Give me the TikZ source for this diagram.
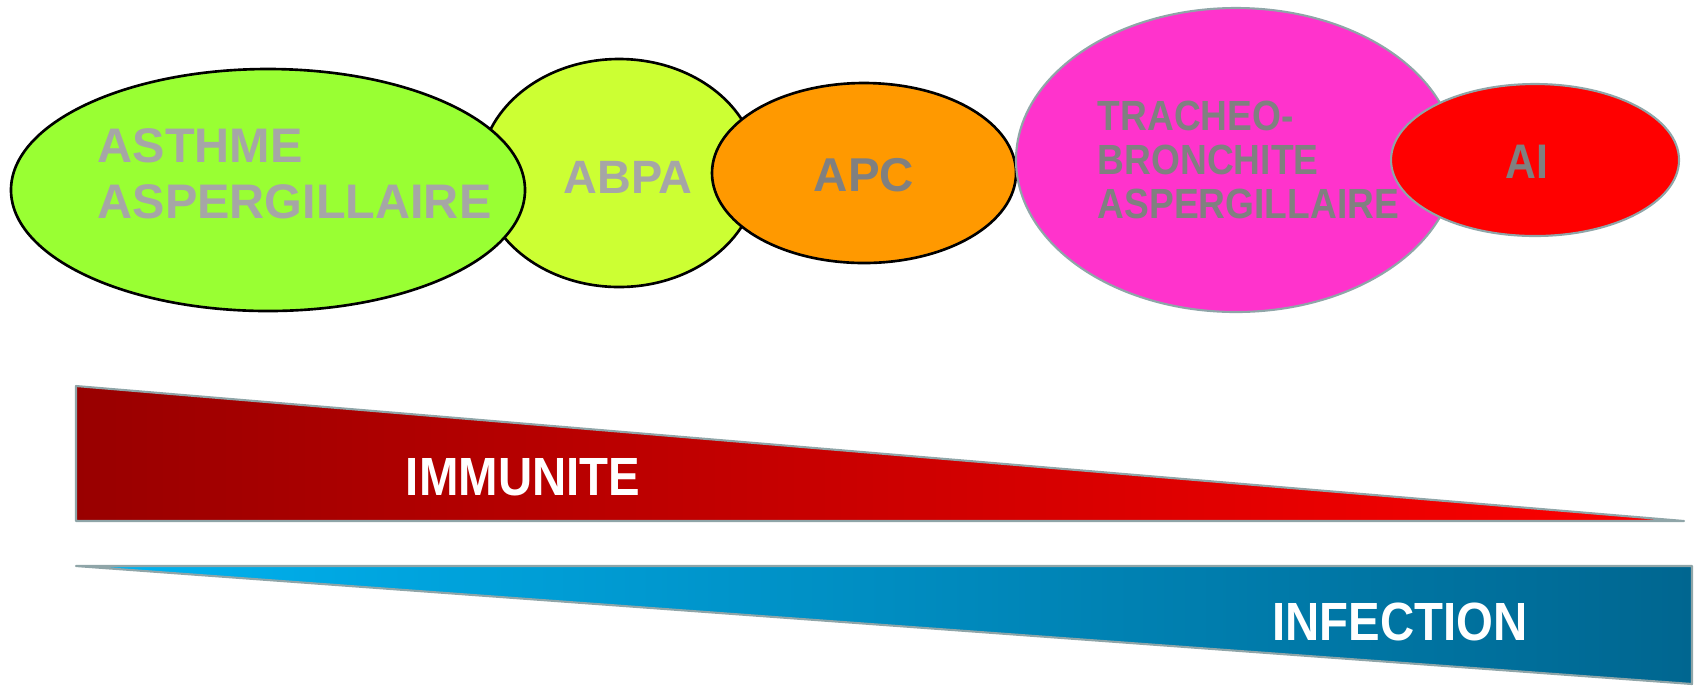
\documentclass[tikz,border=0pt]{standalone}
\usepackage{fontspec}
\setmainfont{Liberation Sans}
\newfontfamily\narrowfont[FakeStretch=0.88]{Liberation Sans}
\usepackage{tikz}
\usetikzlibrary{calc}
\usetikzlibrary{positioning}
\definecolor{asthmegreen}{HTML}{99FF33}
\definecolor{abpagreen}{HTML}{CCFF33}
\definecolor{apcorange}{HTML}{FF9900}
\definecolor{tbpink}{HTML}{FF33CC}
\definecolor{aired}{HTML}{FF0000}
\definecolor{lightgrey}{HTML}{A6A6A6}
\definecolor{midgrey}{HTML}{808080}
\definecolor{rimgrey}{HTML}{8FA5A8}
\definecolor{darkred}{HTML}{990000}
\definecolor{lightblue}{HTML}{00B4F2}
\definecolor{deepblue}{HTML}{006690}
\tikzset{
    blob/.style={draw=black, line width=0.75pt},
    softblob/.style={draw=rimgrey, line width=0.6pt},
    blobtext/.style={font=\bfseries\fontsize{#1}{#1}\selectfont, inner sep=0pt},
    bartext/.style={font=\narrowfont\bfseries\fontsize{15.3}{15.3}\selectfont, text=white, inner sep=0pt}
}

\begin{document}
\begin{tikzpicture}[x=0.01cm, y=-0.01cm]
    \useasboundingbox (0,0) rectangle (1698,687);
    \filldraw[blob, fill=abpagreen] (619,173) ellipse [x radius=139, y radius=114];
    \filldraw[blob, fill=asthmegreen] (268,190) ellipse [x radius=257, y radius=121];
    \filldraw[blob, fill=apcorange] (864,173) ellipse [x radius=152, y radius=90];
    \filldraw[softblob, fill=tbpink] (1236,160) ellipse [x radius=220, y radius=152];
    \filldraw[softblob, fill=aired] (1535,160) ellipse [x radius=144, y radius=76];
    \node (asthme) at (97,174) [anchor=west, align=left, text=lightgrey, inner sep=0pt,
        font=\bfseries\fontsize{13.8}{16}\selectfont] {ASTHME\\ASPERGILLAIRE};
    \node (abpa) at (628,177) [blobtext=13.3, text=lightgrey] {ABPA};
    \node (apc) at (864,175) [blobtext=13.5, text=midgrey] {APC};
    \node (tracheo) at (1097,160) [anchor=west, align=left, text=midgrey, inner sep=0pt,
        font=\narrowfont\bfseries\fontsize{12}{12.5}\selectfont] {TRACHEO-\\BRONCHITE\\ASPERGILLAIRE};
    \node (ai) at (1527,162) [text=midgrey, inner sep=0pt,
        font=\narrowfont\bfseries\fontsize{13.8}{13.8}\selectfont] {AI};
    \shade[left color=darkred, right color=aired] (76,386) -- (1684,521) -- (76,521) -- cycle;
    \draw[rimgrey, line width=0.6pt, line join=round] (76,386) -- (1684,521) -- (76,521) -- cycle;
    \shade[left color=lightblue, right color=deepblue] (76,566) -- (1692,566) -- (1692,684) -- cycle;
    \draw[rimgrey, line width=0.6pt, line join=round] (76,566) -- (1692,566) -- (1692,684) -- cycle;
    \node (immunite) at (523,477) [bartext] {IMMUNITE};
    \node (infection) at (1400,622) [bartext] {INFECTION};
\end{tikzpicture}
\end{document}
